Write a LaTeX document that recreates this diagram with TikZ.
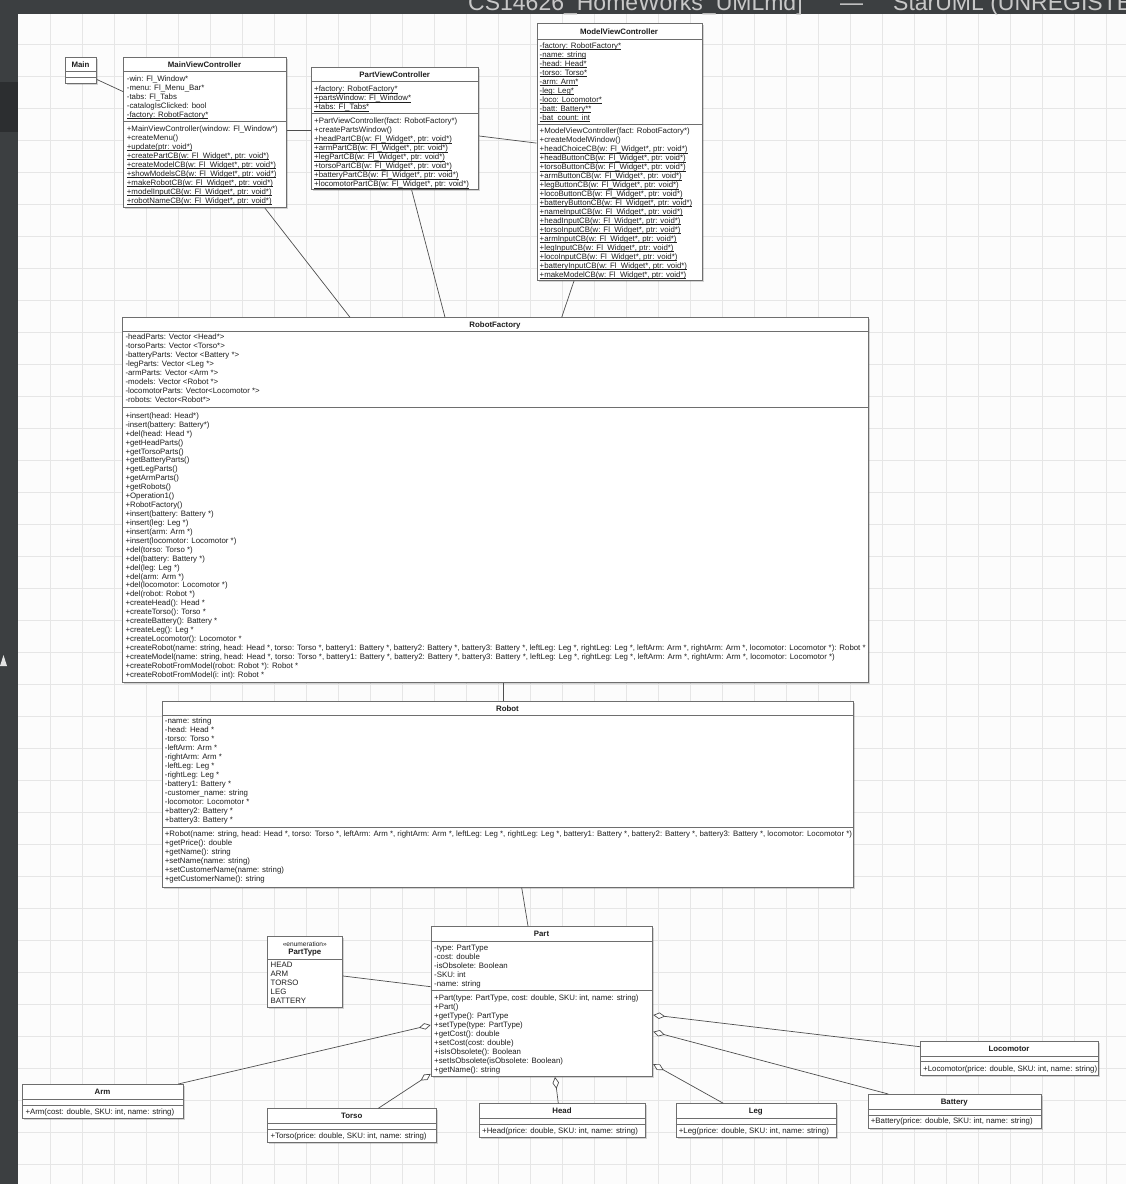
\documentclass[tikz,border=0pt]{standalone}
\usepackage{fontspec}
\setmainfont{Liberation Sans}
\usetikzlibrary{calc,arrows.meta,shadows}

\definecolor{framedark}{HTML}{3C3F41}
\definecolor{framedeep}{HTML}{2C2E30}
\definecolor{canvasbg}{HTML}{FCFCFC}
\definecolor{gridline}{HTML}{E6E6E6}
\definecolor{boxline}{HTML}{6E6E6E}
\definecolor{wire}{HTML}{4E4E4E}
\definecolor{ink}{HTML}{1E1E1E}
\definecolor{bartext}{HTML}{C8C8C8}

% underlined member (static)
\newcommand\uln[1]{\setbox0\hbox{#1}\rlap{\rule[-1.5pt]{\wd0}{0.5pt}}\box0}
\newcommand\cbargs{(w: Fl\_Widget*, ptr: void*)}

\tikzset{
  classbox/.style={draw=boxline, line width=0.9pt, fill=white, inner sep=0pt,
    anchor=north west,
    drop shadow={shadow xshift=1.6pt, shadow yshift=-1.6pt, fill=black, opacity=0.16}},
  divider/.style={draw=boxline, line width=0.9pt},
  member/.style={anchor=west, inner sep=0pt, text=ink, yshift=-0.8pt,
    font=\fontsize{7.85}{8}\selectfont, text height=5.6pt, text depth=1.6pt},
  classtitle/.style={member, anchor=center, font=\fontsize{7.85}{8}\selectfont\bfseries},
  link/.style={draw=wire, line width=0.7pt},
  aggr/.style={link, -{Diamond[fill=white, length=12pt, width=6.5pt, line width=0.7pt]}},
  barlabel/.style={anchor=base west, inner sep=0pt, text=bartext, font=\fontsize{23}{24}\selectfont},
}

% one text line per member: prefix, x, first y, step, list
\newcommand\members[5]{%
  \foreach \m [count=\k from 0] in {#5} {\node[member] (#1-\k) at ({#2},{#3+\k*#4}) {\m};}}

\begin{document}
\begin{tikzpicture}[x=1pt, y=-1pt]
\useasboundingbox (0,0) rectangle (1126,1184);

% window chrome and canvas
\fill[canvasbg] (18,14) rectangle (1126,1184);
\foreach \gx in {0,...,34} \draw[gridline, line width=0.5pt] ({50+32*\gx},14) -- ({50+32*\gx},1184);
\foreach \gy in {0,...,35} \draw[gridline, line width=0.5pt] (18,{44.7+32*\gy}) -- (1126,{44.7+32*\gy});
\fill[framedark] (0,0) rectangle (1126,14);
\fill[framedark] (0,14) rectangle (18,1184);
\fill[framedeep] (0,82) rectangle (18,132);
\fill[white!85!framedark] (0,666) -- (3.5,655) -- (7,666) -- cycle;
\begin{scope}
  \clip (0,0) rectangle (1126,14);
  \node[barlabel] (wintitle) at (468,10.5) {CS14626\_HomeWorks\_UMLmd]};
  \node[barlabel] (wintitle-dash) at (840,10.5) {---};
  \node[barlabel] (wintitle-app) at (893,10.5) {StarUML (UNREGISTERED)};
\end{scope}

% ---------- Main ----------
\node[classbox, minimum width=31pt, minimum height=26.3pt] (main) at (65,57) {};
\draw[divider] (65,71.7) -- (96,71.7);
\draw[divider] (65,77.7) -- (96,77.7);
\node[classtitle] (main-t) at (80.5,64.3) {Main};

% ---------- MainViewController ----------
\node[classbox, minimum width=162.4pt, minimum height=150pt] (mvc) at (123.3,57.3) {};
\draw[divider] (123.3,71.7) -- (285.7,71.7);
\draw[divider] (123.3,121.7) -- (285.7,121.7);
\node[classtitle] (mvc-t) at (204.5,64.4) {MainViewController};
\members{mvc-a}{126.7}{78.3}{9}{-win: Fl\_Window*, -menu: Fl\_Menu\_Bar*, -tabs: Fl\_Tabs,
  -catalogIsClicked: bool, \uln{-factory: RobotFactory*}}
\members{mvc-m}{126.7}{128.3}{9}{+MainViewController(window: Fl\_Window*), +createMenu(),
  \uln{+update(ptr: void*)}, \uln{+createPartCB\cbargs}, \uln{+createModelCB\cbargs},
  \uln{+showModelsCB\cbargs}, \uln{+makeRobotCB\cbargs}, \uln{+modelInputCB\cbargs},
  \uln{+robotNameCB\cbargs}}

% ---------- PartViewController ----------
\node[classbox, minimum width=167.3pt, minimum height=122.6pt] (pvc) at (311,66.7) {};
\draw[divider] (311,81.7) -- (478.3,81.7);
\draw[divider] (311,113.3) -- (478.3,113.3);
\node[classtitle] (pvc-t) at (394.7,74.5) {PartViewController};
\members{pvc-a}{314}{89}{9}{\uln{+factory: RobotFactory*}, \uln{+partsWindow: Fl\_Window*},
  \uln{+tabs: Fl\_Tabs*}}
\members{pvc-m}{314}{120.7}{9}{+PartViewController(fact: RobotFactory*), +createPartsWindow(),
  \uln{+headPartCB\cbargs}, \uln{+armPartCB\cbargs}, \uln{+legPartCB\cbargs},
  \uln{+torsoPartCB\cbargs}, \uln{+batteryPartCB\cbargs}, \uln{+locomotorPartCB\cbargs}}

% ---------- ModelViewController ----------
\node[classbox, minimum width=165.2pt, minimum height=256.7pt] (modelvc) at (536.5,23.3) {};
\draw[divider] (536.5,39) -- (701.7,39);
\draw[divider] (536.5,124) -- (701.7,124);
\node[classtitle] (modelvc-t) at (619,31.5) {ModelViewController};
\members{modelvc-a}{539.5}{45.6}{8.96}{\uln{-factory: RobotFactory*}, \uln{-name: string},
  \uln{-head: Head*}, \uln{-torso: Torso*}, \uln{-arm: Arm*}, \uln{-leg: Leg*},
  \uln{-loco: Locomotor*}, \uln{-batt: Battery**}, \uln{-bat\_count: int}}
\members{modelvc-m}{539.5}{131}{8.96}{+ModelViewController(fact: RobotFactory*), +createModelWindow(),
  \uln{+headChoiceCB\cbargs}, \uln{+headButtonCB\cbargs}, \uln{+torsoButtonCB\cbargs},
  \uln{+armButtonCB\cbargs}, \uln{+legButtonCB\cbargs}, \uln{+locoButtonCB\cbargs},
  \uln{+batteryButtonCB\cbargs}, \uln{+nameInputCB\cbargs}, \uln{+headInputCB\cbargs},
  \uln{+torsoInputCB\cbargs}, \uln{+armInputCB\cbargs}, \uln{+legInputCB\cbargs},
  \uln{+locoInputCB\cbargs}, \uln{+batteryInputCB\cbargs}, \uln{+makeModelCB\cbargs}}

% ---------- RobotFactory ----------
\node[classbox, minimum width=745.4pt, minimum height=364.4pt] (rf) at (122.3,317.3) {};
\draw[divider] (122.3,331.7) -- (867.7,331.7);
\draw[divider] (122.3,407.7) -- (867.7,407.7);
\node[classtitle] (rf-t) at (495,324.5) {RobotFactory};
\members{rf-a}{125.3}{336.7}{9}{-headParts: Vector <Head*>, -torsoParts: Vector <Torso*>,
  -batteryParts: Vector <Battery *>, -legParts: Vector <Leg *>, -armParts: Vector <Arm *>,
  -models: Vector <Robot *>, -locomotorParts: Vector<Locomotor *>, -robots: Vector<Robot*>}
\members{rf-m}{125.3}{415.5}{8.93}{+insert(head: Head*), -insert(battery: Battery*), +del(head: Head *),
  +getHeadParts(), +getTorsoParts(), +getBatteryParts(), +getLegParts(), +getArmParts(),
  +getRobots(), +Operation1(), +RobotFactory(), +insert(battery: Battery *), +insert(leg: Leg *),
  +insert(arm: Arm *), +insert(locomotor: Locomotor *), +del(torso: Torso *),
  +del(battery: Battery *), +del(leg: Leg *), +del(arm: Arm *), +del(locomotor: Locomotor *),
  +del(robot: Robot *), +createHead(): Head *, +createTorso(): Torso *,
  +createBattery(): Battery *, +createLeg(): Leg *, +createLocomotor(): Locomotor *,
  {+createRobot(name: string, head: Head *, torso: Torso *, battery1: Battery *, battery2: Battery *, battery3: Battery *, leftLeg: Leg *, rightLeg: Leg *, leftArm: Arm *, rightArm: Arm *, locomotor: Locomotor *): Robot *},
  {+createModel(name: string, head: Head *, torso: Torso *, battery1: Battery *, battery2: Battery *, battery3: Battery *, leftLeg: Leg *, rightLeg: Leg *, leftArm: Arm *, rightArm: Arm *, locomotor: Locomotor *)},
  +createRobotFromModel(robot: Robot *): Robot *, +createRobotFromModel(i: int): Robot *}

% ---------- Robot ----------
\node[classbox, minimum width=691.6pt, minimum height=186pt] (robot) at (161.7,700.7) {};
\draw[divider] (161.7,715.7) -- (853.3,715.7);
\draw[divider] (161.7,827.3) -- (853.3,827.3);
\node[classtitle] (robot-t) at (507.5,708.2) {Robot};
\members{robot-a}{164.7}{721}{9}{-name: string, -head: Head *, -torso: Torso *, -leftArm: Arm *,
  -rightArm: Arm *, -leftLeg: Leg *, -rightLeg: Leg *, -battery1: Battery *,
  -customer\_name: string, -locomotor: Locomotor *, +battery2: Battery *, +battery3: Battery *}
\members{robot-m}{164.7}{833.3}{9}{{+Robot(name: string, head: Head *, torso: Torso *, leftArm: Arm *, rightArm: Arm *, leftLeg: Leg *, rightLeg: Leg *, battery1: Battery *, battery2: Battery *, battery3: Battery *, locomotor: Locomotor *)},
  +getPrice(): double, +getName(): string, +setName(name: string),
  +setCustomerName(name: string), +getCustomerName(): string}

% ---------- Part ----------
\node[classbox, minimum width=221.6pt, minimum height=150pt] (part) at (430.7,926) {};
\draw[divider] (430.7,941.7) -- (652.3,941.7);
\draw[divider] (430.7,990.7) -- (652.3,990.7);
\node[classtitle] (part-t) at (541.5,933.5) {Part};
\members{part-a}{434}{947.3}{9}{-type: PartType, -cost: double, -isObsolete: Boolean, -SKU: int,
  -name: string}
\members{part-m}{434}{997.7}{8.95}{{+Part(type: PartType, cost: double, SKU: int, name: string)},
  +Part(), +getType(): PartType, +setType(type: PartType), +getCost(): double,
  +setCost(cost: double), +isIsObsolete(): Boolean, +setIsObsolete(isObsolete: Boolean),
  +getName(): string}

% ---------- PartType ----------
\node[classbox, minimum width=75pt, minimum height=71.6pt] (parttype) at (267.3,935.7) {};
\draw[divider] (267.3,959.3) -- (342.3,959.3);
\node[member, anchor=center, font=\fontsize{6.6}{7}\selectfont] (parttype-s) at (304.8,943.3) {«enumeration»};
\node[classtitle] (parttype-t) at (304.8,951.9) {PartType};
\members{parttype-l}{270.5}{964.3}{9.1}{HEAD, ARM, TORSO, LEG, BATTERY}

% ---------- leaf part classes ----------
\node[classbox, minimum width=160.4pt, minimum height=34.3pt] (arm) at (22.3,1084) {};
\draw[divider] (22.3,1099) -- (182.7,1099);
\draw[divider] (22.3,1105) -- (182.7,1105);
\node[classtitle] (arm-t) at (102.5,1091.8) {Arm};
\node[member] (arm-m) at (25.3,1111.7) {+Arm(cost: double, SKU: int, name: string)};

\node[classbox, minimum width=168.7pt, minimum height=34pt] (torso) at (267.3,1108.3) {};
\draw[divider] (267.3,1123.3) -- (436,1123.3);
\draw[divider] (267.3,1129) -- (436,1129);
\node[classtitle] (torso-t) at (351.7,1116.1) {Torso};
\node[member] (torso-m) at (270.3,1135.7) {+Torso(price: double, SKU: int, name: string)};

\node[classbox, minimum width=166pt, minimum height=34pt] (head) at (479,1103.3) {};
\draw[divider] (479,1118.3) -- (645,1118.3);
\draw[divider] (479,1124) -- (645,1124);
\node[classtitle] (head-t) at (562,1111.1) {Head};
\node[member] (head-m) at (482,1130.7) {+Head(price: double, SKU: int, name: string)};

\node[classbox, minimum width=160.3pt, minimum height=34pt] (leg) at (675.7,1103.3) {};
\draw[divider] (675.7,1118.3) -- (836,1118.3);
\draw[divider] (675.7,1124) -- (836,1124);
\node[classtitle] (leg-t) at (755.8,1111.1) {Leg};
\node[member] (leg-m) at (678.7,1130.7) {+Leg(price: double, SKU: int, name: string)};

\node[classbox, minimum width=173.3pt, minimum height=33.7pt] (battery) at (867.7,1094) {};
\draw[divider] (867.7,1109) -- (1041,1109);
\draw[divider] (867.7,1115) -- (1041,1115);
\node[classtitle] (battery-t) at (954.3,1101.6) {Battery};
\node[member] (battery-m) at (870.7,1120.9) {+Battery(price: double, SKU: int, name: string)};

\node[classbox, minimum width=178.3pt, minimum height=34pt] (loco) at (920,1041) {};
\draw[divider] (920,1056) -- (1098.3,1056);
\draw[divider] (920,1061.7) -- (1098.3,1061.7);
\node[classtitle] (loco-t) at (1009,1048.6) {Locomotor};
\node[member] (loco-m) at (923,1068.5) {+Locomotor(price: double, SKU: int, name: string)};

% ---------- associations ----------
\draw[link] ($(main.south east)+(0,-4.7)$) -- ($(mvc.north west)+(0,34.4)$);
\draw[link] ($(mvc.north east)+(0,72.7)$) -- ($(pvc.north west)+(0,63.3)$);
\draw[link] ($(pvc.north east)+(0,69.3)$) -- ($(modelvc.north west)+(0,119.8)$);
\draw[link] ($(mvc.south west)+(141.7,0)$) -- ($(rf.north west)+(227.7,0)$);
\draw[link] ($(pvc.south west)+(100.7,0)$) -- ($(rf.north west)+(322.7,0)$);
\draw[link] ($(modelvc.south west)+(37.5,0)$) -- ($(rf.north west)+(439.4,0)$);
\draw[link] ($(rf.south west)+(381,0)$) -- ($(robot.north west)+(341.6,0)$);
\draw[link] ($(robot.south west)+(360,0)$) -- ($(part.north west)+(97.3,0)$);
\draw[link] ($(parttype.north east)+(0,40.3)$) -- ($(part.north west)+(0,60.7)$);

% ---------- aggregations into Part ----------
\draw[aggr] ($(arm.north west)+(156,0)$) -- ($(part.north west)+(0,99)$);
\draw[aggr] ($(torso.north west)+(111,0)$) -- ($(part.south west)+(0,-3)$);
\draw[aggr] ($(head.north west)+(79.3,0)$) -- ($(part.south west)+(124.3,0)$);
\draw[aggr] ($(leg.north west)+(47.6,0)$) -- ($(part.south east)+(0,-12.7)$);
\draw[aggr] ($(battery.north west)+(20.6,0)$) -- ($(part.north east)+(0,105.7)$);
\draw[aggr] ($(loco.north west)+(0,5.7)$) -- ($(part.north east)+(0,89)$);
\end{tikzpicture}
\end{document}
